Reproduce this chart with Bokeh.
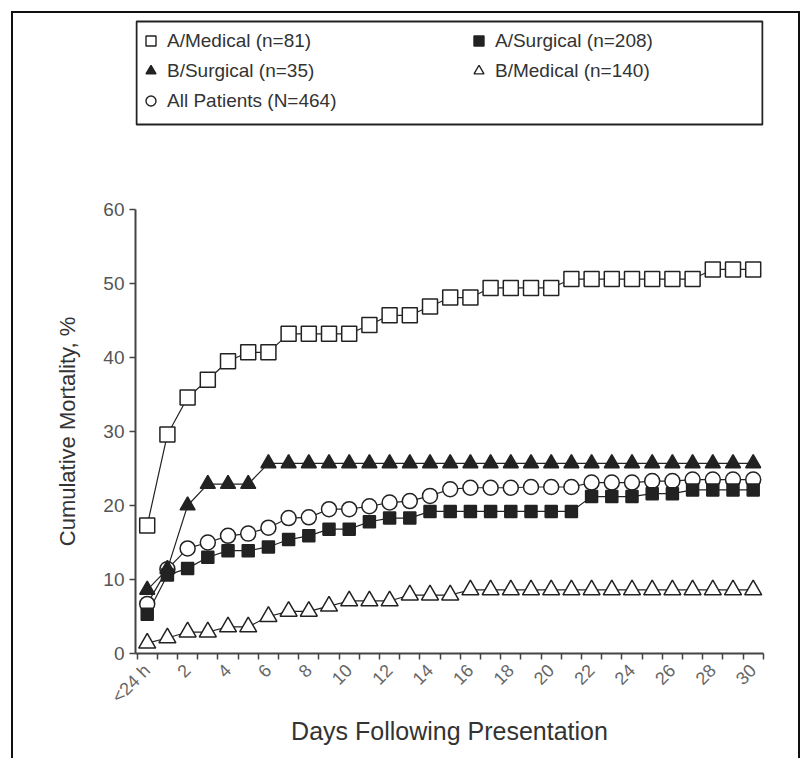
import math
from bokeh.plotting import figure
from bokeh.layouts import column
from bokeh.models import Range1d, FixedTicker, Legend, LegendItem, BoxAnnotation
from bokeh.embed import file_html
from bokeh.resources import INLINE

# x positions: 0 = "<24 h", 1..30 = days
days = list(range(31))
tick_days = list(range(0, 31, 2))
tick_labels = ["<24 h"] + [str(d) for d in range(2, 31, 2)]
boundaries = [d - 0.5 for d in range(32)]

a_medical = [17.3, 29.6, 34.6, 37.0, 39.5, 40.7, 40.7, 43.2, 43.2, 43.2, 43.2,
             44.4, 45.7, 45.7, 46.9, 48.1, 48.1, 49.4, 49.4, 49.4, 49.4,
             50.6, 50.6, 50.6, 50.6, 50.6, 50.6, 50.6, 51.9, 51.9, 51.9]
a_surgical = [5.3, 10.6, 11.5, 13.0, 13.9, 13.9, 14.4, 15.4, 15.9, 16.8, 16.8,
              17.8, 18.3, 18.3, 19.2, 19.2, 19.2, 19.2, 19.2, 19.2, 19.2,
              19.2, 21.2, 21.2, 21.2, 21.6, 21.6, 22.1, 22.1, 22.1, 22.1]
b_surgical = [8.6, 11.4, 20.0, 22.9, 22.9, 22.9] + [25.7] * 25
b_medical = [1.4, 2.1, 2.9, 2.9, 3.6, 3.6, 5.0, 5.7, 5.7, 6.4, 7.1, 7.1, 7.1,
             7.9, 7.9, 7.9] + [8.6] * 15
all_patients = [6.7, 11.4, 14.2, 15.0, 15.9, 16.2, 17.0, 18.3, 18.4, 19.5, 19.5,
                19.9, 20.4, 20.6, 21.3, 22.2, 22.4, 22.4, 22.4, 22.5, 22.5,
                22.5, 23.1, 23.1, 23.1, 23.3, 23.3, 23.5, 23.5, 23.5, 23.5]

FONT = "Liberation Sans"
INK = "#222222"

series = [
    ("A/Medical (n=81)", a_medical, "square", 15, "white"),
    ("All Patients (N=464)", all_patients, "circle", 15, "white"),
    ("A/Surgical (n=208)", a_surgical, "square", 12, INK),
    ("B/Surgical (n=35)", b_surgical, "triangle", 15, INK),
    ("B/Medical (n=140)", b_medical, "triangle", 17, "white"),
]
legend_col1 = ["A/Medical (n=81)", "B/Surgical (n=35)", "All Patients (N=464)"]
legend_col2 = ["A/Surgical (n=208)", "B/Medical (n=140)"]

outer_bg = ("linear-gradient(#111,#111) 11px 11px / 2px 100% no-repeat, "
            "linear-gradient(#111,#111) 11px 11px / 789px 2px no-repeat, "
            "linear-gradient(#111,#111) 798px 11px / 2px 100% no-repeat, #ffffff")

# ---------------- legend strip (top) ----------------
lg = figure(width=800, height=197, x_range=Range1d(0, 1), y_range=Range1d(0, 1),
            x_axis_type=None, y_axis_type=None, output_backend="svg",
            toolbar_location=None, min_border=0)
lg.outline_line_color = None
lg.grid.visible = False
lg.background_fill_alpha = 0
lg.border_fill_alpha = 0

nan = float("nan")
key_rends = {}
for name, ys, marker, size, fill in series:
    # legend keys only: a single undefined point, never drawn in the strip
    key_rends[name] = lg.scatter(x=[nan], y=[nan], marker=marker, size=size,
                                 fill_color=fill, line_color=INK, line_width=1.4)

common = dict(orientation="vertical", glyph_width=25, glyph_height=25,
              label_height=25, spacing=5, padding=0, margin=0,
              border_line_alpha=0, background_fill_alpha=0,
              label_standoff=4,
              label_text_font=FONT, label_text_font_size="19px",
              label_text_color="#333333")
leg1 = Legend(items=[LegendItem(label=n, renderers=[key_rends[n]]) for n in legend_col1],
              location=(3, 84), **common)
leg2 = Legend(items=[LegendItem(label=n, renderers=[key_rends[n]]) for n in legend_col2],
              location=(331, 114), **common)
lg.add_layout(leg1, "center")
lg.add_layout(leg2, "center")
lg.add_layout(BoxAnnotation(left=136, right=762, top=21, bottom=124,
                            left_units="canvas", right_units="canvas",
                            top_units="canvas", bottom_units="canvas",
                            fill_alpha=0, line_color=INK, line_width=2, line_alpha=1))

# ---------------- main chart ----------------
p = figure(width=800, height=561,
           x_range=Range1d(-0.58, 30.51), y_range=Range1d(0, 60),
           output_backend="svg", toolbar_location=None,
           min_border_left=135, min_border_right=37,
           min_border_top=12, min_border_bottom=105)
p.outline_line_color = None
p.xgrid.visible = False
p.ygrid.visible = False
p.background_fill_color = "white"
p.border_fill_alpha = 0

for name, ys, marker, size, fill in series:
    p.line(days, ys, line_color=INK, line_width=1.2)
for name, ys, marker, size, fill in series:
    p.scatter(days, ys, marker=marker, size=size, fill_color=fill,
              line_color=INK, line_width=1.5)

xax = p.xaxis[0]
xax.ticker = FixedTicker(ticks=tick_days, minor_ticks=boundaries)
xax.major_label_overrides = {d: lab for d, lab in zip(tick_days, tick_labels)}
xax.major_label_orientation = math.pi / 4
xax.major_tick_out = 0
xax.major_tick_in = 0
xax.minor_tick_out = 6
xax.minor_tick_in = 0
xax.minor_tick_line_color = "#444444"
xax.minor_tick_line_width = 1.5
xax.axis_line_color = "#444444"
xax.axis_line_width = 2
xax.major_label_text_font = FONT
xax.major_label_text_font_size = "18px"
xax.major_label_text_color = "#666666"
xax.major_label_standoff = 8
xax.axis_label = "Days Following Presentation"
xax.axis_label_text_font = FONT
xax.axis_label_text_font_size = "25px"
xax.axis_label_text_font_style = "normal"
xax.axis_label_text_color = "#333333"
xax.axis_label_standoff = 0

yax = p.yaxis[0]
yax.ticker = FixedTicker(ticks=[0, 10, 20, 30, 40, 50, 60])
yax.minor_tick_out = 0
yax.minor_tick_in = 0
yax.major_tick_out = 6
yax.major_tick_in = 0
yax.major_tick_line_color = "#444444"
yax.major_tick_line_width = 1.5
yax.axis_line_color = "#444444"
yax.axis_line_width = 2
yax.major_label_text_font = FONT
yax.major_label_text_font_size = "19px"
yax.major_label_text_color = "#555555"
yax.major_label_standoff = 5
yax.axis_label = "Cumulative Mortality, %"
yax.axis_label_text_font = FONT
yax.axis_label_text_font_size = "22px"
yax.axis_label_text_font_style = "normal"
yax.axis_label_text_color = "#333333"
yax.axis_label_standoff = 20

page = column(lg, p, spacing=0, styles={"background": outer_bg})
open("out.html", "w").write(file_html(page, INLINE))
